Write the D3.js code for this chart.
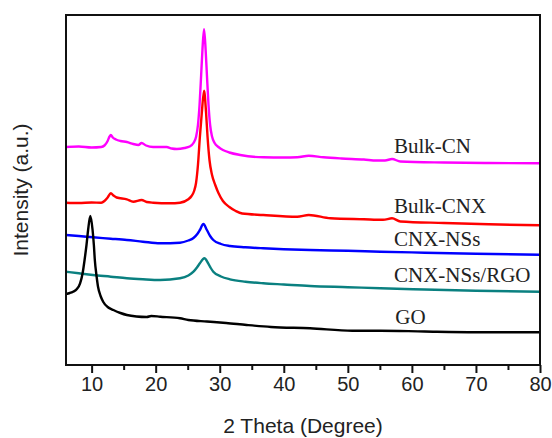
<!DOCTYPE html>
<html>
<head>
<meta charset="utf-8">
<script src="https://cdn.jsdelivr.net/npm/d3@7"></script>
<style>
  html, body { margin: 0; padding: 0; background: #fff; }
  svg { display: block; }
</style>
</head>
<body>
<svg id="chart" width="552" height="438"></svg>
<script>
// ---- data (2θ in degrees, intensity in arbitrary units, offset-stacked) ----
const bulkCN = [
  [6,218],[8,218.5],[10,217.5],[11.5,218],[12.0,219.5],[12.5,224],[12.8,228.5],[13.0,230],
  [13.3,227.5],[13.8,225.5],[14.5,224],[15.5,223],[16.5,221],[17.3,220],[17.8,222],[18.5,219.5],
  [19.6,218],[21.7,218],[22.5,216.5],[23.3,216],[24.5,217],[25.3,218.5],[25.9,222],[26.3,228],
  [26.6,240],[26.85,260],[27.1,290],[27.3,315],[27.55,335.7],[27.8,315],[28.0,290],[28.25,260],
  [28.5,240],[28.8,228.5],[29.2,222],[29.8,218],[30.5,215],[31.5,212.5],[33.2,210],[36.8,207.7],
  [40,207.5],[42.1,207.7],[43.9,209.3],[46.2,207.7],[49,206.5],[52.5,205.5],[54.5,204.5],
  [55.8,204.5],[56.9,206],[58.2,203.5],[65,202.5],[72,202],[80,201.7]
];
const bulkCNX = [
  [6,162.3],[8,162],[10,162.5],[11.5,162.3],[12.0,164],[12.5,167.5],[13.0,171.7],[13.4,169.5],
  [13.9,167.5],[15.5,165.7],[16.5,163.3],[17.8,165],[18.6,163],[19.6,162.3],[22.2,161.7],
  [23.8,162.3],[25.1,165.7],[25.6,169],[26.0,174],[26.3,182],[26.6,200],[26.9,228],[27.2,252],
  [27.55,274.3],[27.87,252],[28.1,228],[28.4,205],[28.8,190],[29.3,180],[29.8,172],[30.5,164],
  [31.5,158],[32.5,154],[33.5,151.5],[36.8,150],[42.1,148.3],[43.9,150],[47.3,146.7],
  [52.5,145.7],[55.5,145.2],[56.9,146.7],[58.2,143.5],[65,142],[72,140.7],[80,139.7]
];
const cnxNSs = [
  [6,130],[8,129],[10.2,127.7],[13,126.3],[15.5,125],[18,123.3],[20.7,121.7],[23.8,122.3],
  [25.1,124.5],[25.9,127],[26.5,131],[26.9,135],[27.45,141],[28.0,135],[28.5,129],[29.0,125],
  [30.2,121],[31.6,119],[34,117.7],[36.8,116.7],[40,115.8],[44.1,115],[50,114.2],[55.1,113.3],
  [62,112.3],[70,111.3],[80,110.3]
];
const cnxNSsRGO = [
  [6,93.3],[8,91.7],[10.2,90],[13,88.3],[15.5,86.7],[18,85.7],[20.7,85],[23.8,86.7],
  [25.1,89.5],[25.9,93.3],[26.5,98],[26.9,101.7],[27.6,106.7],[28.2,101.7],[28.6,97],[29.0,93.3],
  [30.2,88.5],[31.6,85.7],[34,83.3],[36.8,81.7],[40,80.5],[44.1,79],[50,77.8],[55.1,76.7],
  [62,75.5],[70,74.3],[80,73.3]
];
const go = [
  [6,71],[6.6,72],[7.1,73.3],[7.7,76],[8.2,81.7],[8.6,92],[8.9,105],[9.2,120],[9.45,135],
  [9.8,149],[10.15,135],[10.35,120],[10.5,105],[10.75,90],[11.0,78.3],[11.4,69],[11.8,63.3],
  [12.5,58],[13.4,55],[14.5,52],[15.5,50],[17,48.5],[18.6,48],[19.3,49],[20.7,48.3],
  [23.8,46.7],[25.1,45],[28,43.5],[31,42],[34.2,40],[38,38],[44.1,36.7],[50.7,34.3],
  [55.1,34.3],[62,33.5],[70,32.8],[80,32.7]
];

const seriesNames  = ["Bulk-CN", "Bulk-CNX", "CNX-NSs", "CNX-NSs/RGO", "GO"];
const seriesData   = [bulkCN, bulkCNX, cnxNSs, cnxNSsRGO, go];
const seriesColors = ["#ff00ff", "#ff0000", "#0000ff", "#0a8080", "#000000"];
const labelX = [57.2, 57.2, 57.2, 57.2, 57.4];
const labelY = [212, 152, 119, 83.3, 41];

const xDomain = [6, 80];
const yDomain = [0, 350];
const xMajorTicks = [10, 20, 30, 40, 50, 60, 70, 80];
const xMinorTicks = [15, 25, 35, 45, 55, 65, 75];
const xTitle = "2 Theta (Degree)";
const yTitle = "Intensity (a.u.)";

// ---- layout ----
const svg = d3.select("#chart");
const mLeft = 66, mRight = 540, mTop = 15, mBottom = 365;

const x = d3.scaleLinear().domain(xDomain).range([mLeft, mRight]);
const y = d3.scaleLinear().domain(yDomain).range([mBottom, mTop]);

// curves
const line = d3.line().x(d => x(d[0])).y(d => y(d[1])).curve(d3.curveMonotoneX);
const g = svg.append("g");
seriesData.forEach((data, i) => {
  g.append("path")
    .datum(data)
    .attr("fill", "none")
    .attr("stroke", seriesColors[i])
    .attr("stroke-width", 2.4)
    .attr("stroke-linejoin", "round")
    .attr("d", line);
});

// frame
svg.append("rect")
  .attr("x", mLeft).attr("y", mTop)
  .attr("width", mRight - mLeft).attr("height", mBottom - mTop)
  .attr("fill", "none").attr("stroke", "#111").attr("stroke-width", 2);

// x axis (major + minor ticks)
const xAxis = d3.axisBottom(x).tickValues(xMajorTicks).tickSize(8).tickPadding(4).tickFormat(d3.format("d"));
const ax = svg.append("g").attr("transform", `translate(0,${mBottom})`).call(xAxis);
ax.select(".domain").remove();
ax.selectAll(".tick line").attr("stroke", "#111").attr("stroke-width", 2);
ax.selectAll(".tick text")
  .attr("font-family", "'Liberation Sans', Arial, sans-serif")
  .attr("font-size", 20).attr("fill", "#222");

const xMinor = d3.axisBottom(x).tickValues(xMinorTicks).tickSize(5).tickFormat("");
const axm = svg.append("g").attr("transform", `translate(0,${mBottom})`).call(xMinor);
axm.select(".domain").remove();
axm.selectAll(".tick line").attr("stroke", "#111").attr("stroke-width", 2);

// axis titles
svg.append("text")
  .attr("x", (mLeft + mRight) / 2).attr("y", 433)
  .attr("text-anchor", "middle")
  .attr("font-family", "'Liberation Sans', Arial, sans-serif")
  .attr("font-size", 21).attr("fill", "#222")
  .text(xTitle);

svg.append("text")
  .attr("transform", `translate(28,${(mTop + mBottom) / 2}) rotate(-90)`)
  .attr("text-anchor", "middle")
  .attr("font-family", "'Liberation Sans', Arial, sans-serif")
  .attr("font-size", 21).attr("fill", "#222")
  .text(yTitle);

// series labels
seriesNames.forEach((name, i) => {
  svg.append("text")
    .attr("x", x(labelX[i])).attr("y", y(labelY[i]))
    .attr("font-family", "'Liberation Serif', 'Times New Roman', serif")
    .attr("font-size", 21).attr("fill", "#222")
    .text(name);
});
</script>
</body>
</html>
